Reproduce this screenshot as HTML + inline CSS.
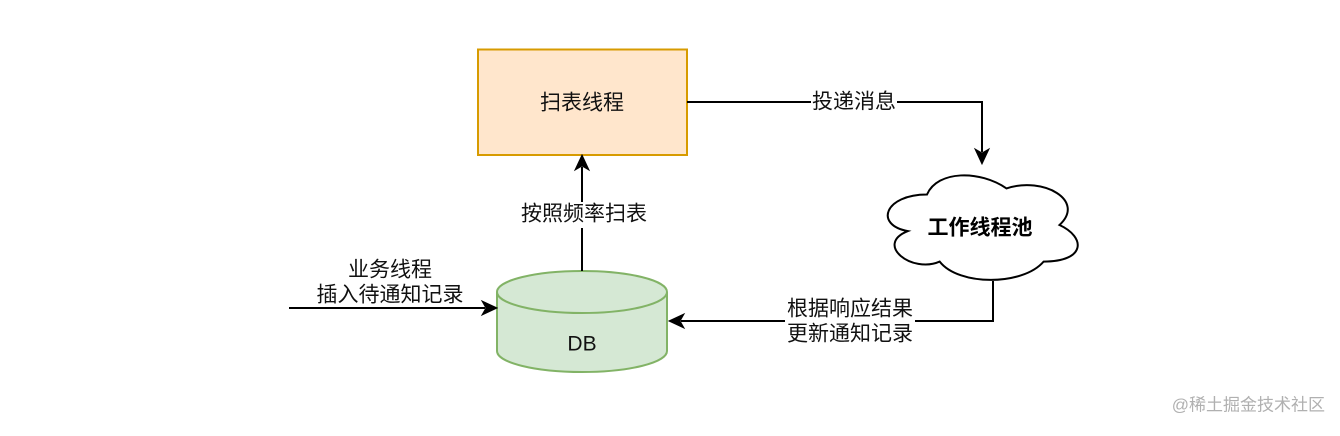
<!DOCTYPE html>
<html>
<head>
<meta charset="utf-8">
<style>
  html,body{margin:0;padding:0;background:#fff;}
  body{width:1340px;height:431px;overflow:hidden;}
  svg text{font-family:"Liberation Sans","Noto Sans CJK SC",sans-serif;}
</style>
</head>
<body>
<svg width="1340" height="431" viewBox="0 0 1340 431" xmlns="http://www.w3.org/2000/svg">
  <rect x="0" y="0" width="1340" height="431" fill="#ffffff"/>

  <!-- 扫表线程 rect -->
  <rect x="478" y="49.5" width="209" height="105.5" fill="#ffe6cc" stroke="#d79b00" stroke-width="2"/>
  <text x="582" y="103" font-size="21" text-anchor="middle" dominant-baseline="central" fill="#111">扫表线程</text>

  <!-- connector 扫表线程 -> 工作线程池 -->
  <polyline points="687,102 982,102 982,152" fill="none" stroke="#000" stroke-width="2"/>
  <path d="M982,164 L975,149 L982,153 L989,149 Z" fill="#000" stroke="#000" stroke-width="1"/>
  <rect x="811" y="89" width="86" height="26" fill="#fff"/>
  <text x="854" y="102" font-size="21" text-anchor="middle" dominant-baseline="central" fill="#111">投递消息</text>

  <!-- cloud -->
  <g transform="translate(874,164)">
    <path d="M53,30.5 C10.6,30.5 0,61 33.9,67.1 C0,80.5 38.2,109.8 65.7,97.6 C84.8,122 148.4,122 169.6,97.6 C212,97.6 212,73.2 185.5,61 C212,36.6 169.6,12.2 132.5,24.4 C106,6.1 63.6,6.1 53,30.5 Z" fill="#fff" stroke="#000" stroke-width="2"/>
  </g>
  <text x="980" y="228" font-size="21" font-weight="bold" text-anchor="middle" dominant-baseline="central" fill="#000">工作线程池</text>

  <!-- connector cloud -> DB -->
  <polyline points="993,281 993,321 681,321" fill="none" stroke="#000" stroke-width="2"/>
  <path d="M669,321 L684,314 L680,321 L684,328 Z" fill="#000" stroke="#000" stroke-width="1"/>
  <rect x="785" y="297" width="130" height="50" fill="#fff"/>
  <text x="850" y="309" font-size="21" text-anchor="middle" dominant-baseline="central" fill="#111">根据响应结果</text>
  <text x="850" y="334" font-size="21" text-anchor="middle" dominant-baseline="central" fill="#111">更新通知记录</text>

  <!-- DB cylinder -->
  <path d="M497,292 L497,351 A85,21 0 0 0 667,351 L667,292 A85,21 0 0 0 497,292 Z" fill="#d5e8d4" stroke="#82b366" stroke-width="2"/>
  <path d="M497,292 A85,21 0 0 0 667,292" fill="none" stroke="#82b366" stroke-width="2"/>
  <text x="582" y="344" font-size="21" text-anchor="middle" dominant-baseline="central" fill="#111">DB</text>

  <!-- connector DB -> 扫表线程 -->
  <line x1="582" y1="271" x2="582" y2="167" stroke="#000" stroke-width="2"/>
  <path d="M582,155 L589,170 L582,166 L575,170 Z" fill="#000" stroke="#000" stroke-width="1"/>
  <rect x="519" y="202" width="130" height="26" fill="#fff"/>
  <text x="584" y="214" font-size="21" text-anchor="middle" dominant-baseline="central" fill="#111">按照频率扫表</text>

  <!-- incoming business arrow -->
  <line x1="289" y1="308" x2="485" y2="308" stroke="#000" stroke-width="2"/>
  <path d="M497,308 L482,301 L486,308 L482,315 Z" fill="#000" stroke="#000" stroke-width="1"/>
  <text x="390" y="270" font-size="21" text-anchor="middle" dominant-baseline="central" fill="#111">业务线程</text>
  <text x="390" y="295" font-size="21" text-anchor="middle" dominant-baseline="central" fill="#111">插入待通知记录</text>

  <!-- watermark -->
  <text x="1325" y="405" font-size="17" text-anchor="end" dominant-baseline="central" fill="#b0b0b0">@稀土掘金技术社区</text>
</svg>
</body>
</html>
